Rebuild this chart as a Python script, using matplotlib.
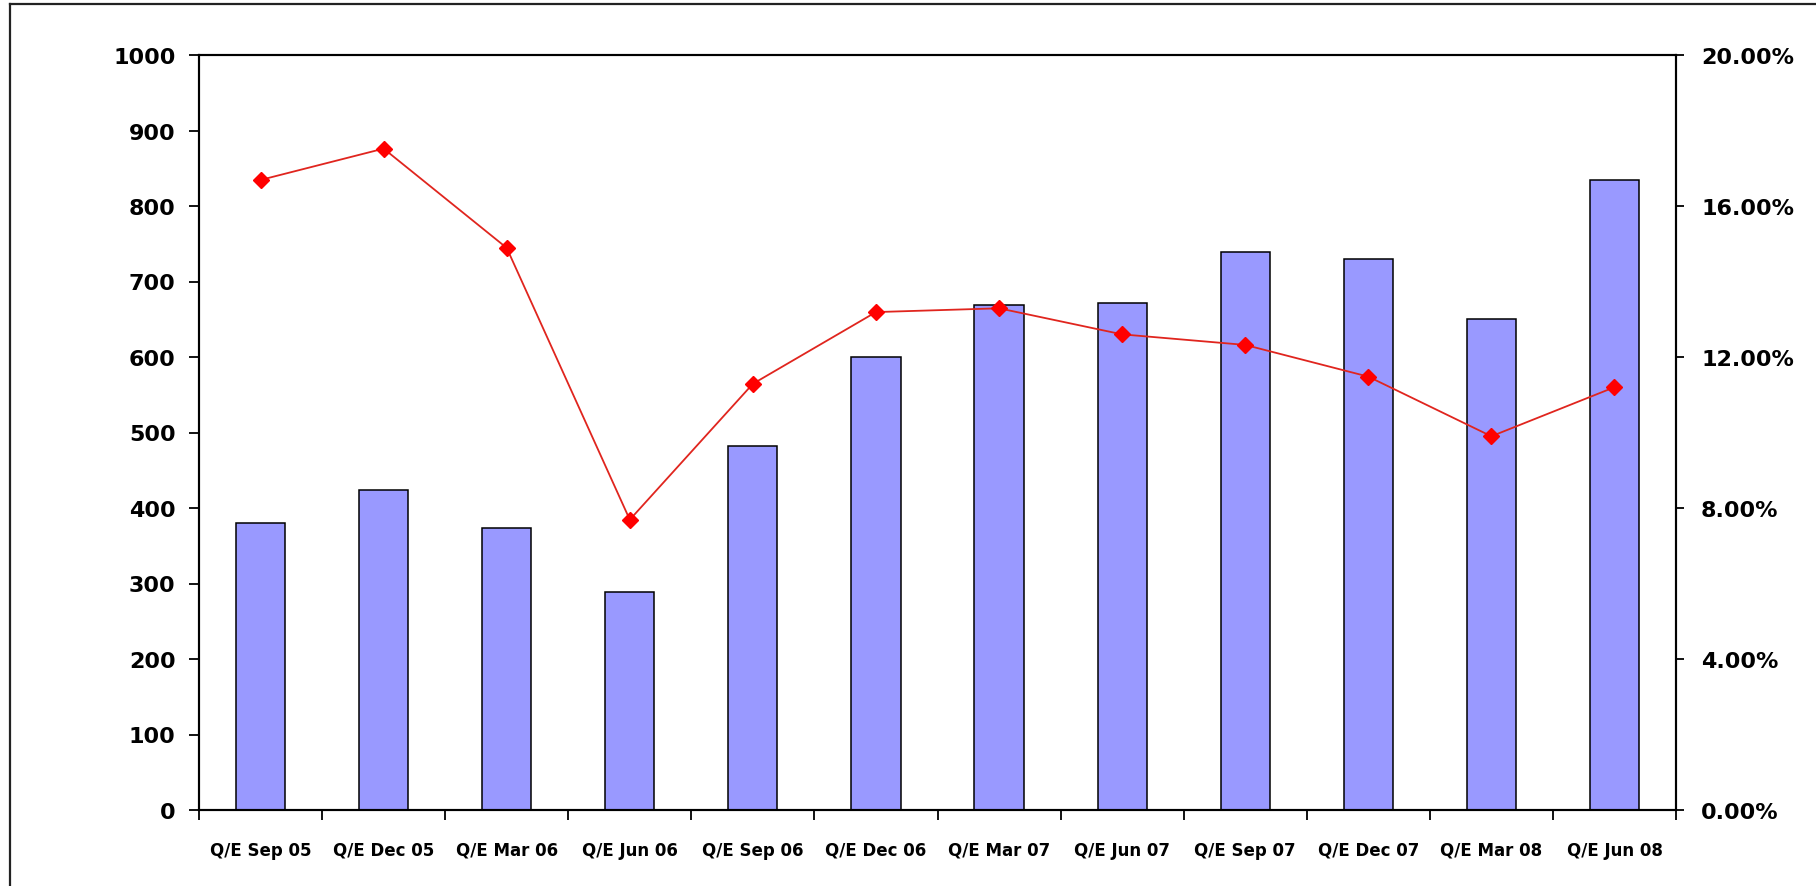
import matplotlib
matplotlib.use("Agg")
import matplotlib.pyplot as plt
from matplotlib.lines import Line2D
from matplotlib.ticker import FuncFormatter

quarters = [
    "Q/E Sep 05", "Q/E Dec 05", "Q/E Mar 06", "Q/E Jun 06",
    "Q/E Sep 06", "Q/E Dec 06", "Q/E Mar 07", "Q/E Jun 07",
    "Q/E Sep 07", "Q/E Dec 07", "Q/E Mar 08", "Q/E Jun 08",
]
volume = [380, 424, 373, 289, 482, 600, 669, 672, 739, 730, 650, 834]
rate_pct = [16.69, 17.52, 14.89, 7.69, 11.29, 13.19, 13.29, 12.60, 12.32, 11.48, 9.90, 11.20]

left_ticks = list(range(0, 1001, 100))
right_ticks = [0, 4, 8, 12, 16, 20]

W, H = 1816, 887
fig = plt.figure(figsize=(W / 100, H / 100), dpi=100)
fig.patch.set_facecolor("white")

# outer chart frame (only top and left edges are inside the picture)
fx, fy = 10 / W, 1 - 5 / H
fig.add_artist(Line2D([fx, fx], [0, fy], transform=fig.transFigure, color="#222222", lw=1.6))
fig.add_artist(Line2D([fx, 1], [fy, fy], transform=fig.transFigure, color="#222222", lw=1.6))

ax = fig.add_axes([199 / W, 1 - 811 / H, (1676 - 199) / W, (811 - 56) / H])
x = list(range(len(quarters)))
ax.bar(x, volume, width=0.4, color="#9999FF", edgecolor="black", linewidth=1.1, zorder=2)
ax.set_xlim(-0.5, len(quarters) - 0.5)
ax.set_ylim(0, 1000)
ax.set_yticks(left_ticks)

for side in ["left", "right", "top", "bottom"]:
    ax.spines[side].set_color("black")
    ax.spines[side].set_linewidth(1.5)

ax.tick_params(axis="y", direction="out", length=7, width=1.3, pad=10, labelsize=16)
for lbl in ax.get_yticklabels():
    lbl.set_fontweight("bold")

# category boundaries as major ticks, category names on minor ticks
ax.set_xticks([i - 0.5 for i in range(len(quarters) + 1)])
ax.set_xticklabels([])
ax.set_xticks(x, minor=True)
ax.set_xticklabels(quarters, minor=True, fontsize=12, fontweight="bold")
ax.tick_params(axis="x", which="major", direction="out", length=7, width=1.3)
ax.tick_params(axis="x", which="minor", length=0, pad=22)

ax2 = ax.twinx()
ax2.plot(x, rate_pct, color="#E0251E", lw=1.3, marker="D", markersize=8,
         markerfacecolor="#FF0000", markeredgecolor="#FF0000", zorder=3)
ax2.set_ylim(0, 20)
ax2.set_yticks(right_ticks)
ax2.yaxis.set_major_formatter(FuncFormatter(lambda v, _: f"{v:.2f}%"))
ax2.tick_params(axis="y", direction="out", length=6, width=1.3, pad=12, labelsize=16)
for lbl in ax2.get_yticklabels():
    lbl.set_fontweight("bold")
for side in ["left", "right", "top", "bottom"]:
    ax2.spines[side].set_color("black")
    ax2.spines[side].set_linewidth(1.5)

fig.savefig("out.png", dpi=100, facecolor="white")
